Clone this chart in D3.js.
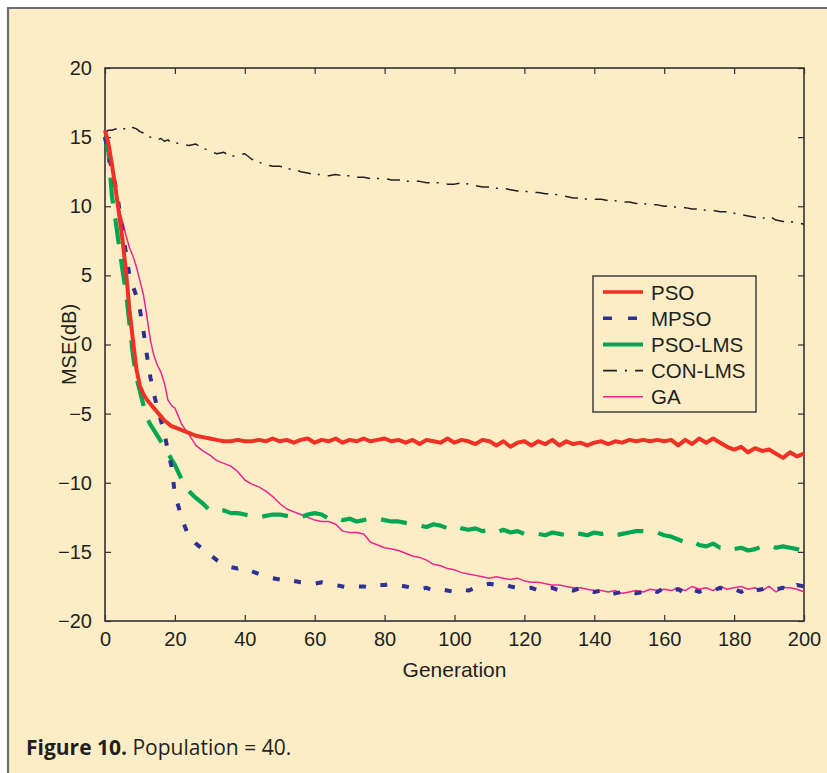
<!DOCTYPE html>
<html>
<head>
<meta charset="utf-8">
<script src="https://cdn.jsdelivr.net/npm/d3@7"></script>
<style>
  html, body { margin: 0; padding: 0; background: #ffffff; }
  svg { display: block; }
</style>
</head>
<body>
<svg id="chart" width="827" height="773"></svg>
<script>
// Generations at which the MSE curves are sampled
const generations = [
  0,1,2,3,4,5,6,7,8,9,10,11,12,13,14,15,16,17,18,19,20,
  22,24,26,28,30,32,34,36,38,40,42,44,46,48,50,52,54,56,58,60,
  62,64,66,68,70,72,74,76,78,80,82,84,86,88,90,92,94,96,98,100,
  102,104,106,108,110,112,114,116,118,120,122,124,126,128,130,132,134,136,138,140,
  142,144,146,148,150,152,154,156,158,160,162,164,166,168,170,172,174,176,178,180,
  182,184,186,188,190,192,194,196,198,200
];

// MSE (dB) of each algorithm, population = 40
const psoValues = [
  15.5,14.5,13.0,11.3,9.5,7.6,5.3,2.5,0.3,-1.8,-3.0,-3.6,-4.0,-4.3,-4.6,-4.9,-5.2,-5.5,-5.7,-5.9,-6.0,
  -6.2,-6.4,-6.6,-6.7,-6.8,-6.9,-7.0,-7.0,-6.9,-7.0,-7.0,-6.9,-7.0,-6.8,-7.0,-6.9,-7.1,-6.9,-6.8,-7.1,
  -6.9,-7.0,-6.8,-7.1,-6.9,-7.0,-6.8,-7.0,-6.9,-6.8,-7.0,-6.9,-7.1,-6.9,-7.2,-6.9,-7.0,-7.1,-6.8,-7.1,
  -6.9,-7.0,-7.2,-6.9,-7.0,-7.3,-7.0,-7.4,-7.1,-7.0,-7.3,-7.0,-7.2,-6.9,-7.3,-7.0,-7.2,-7.1,-7.3,-7.1,
  -7.0,-7.2,-7.0,-7.1,-6.9,-7.0,-6.9,-7.0,-6.9,-7.0,-6.9,-7.3,-6.9,-7.2,-6.8,-7.1,-6.8,-7.1,-7.4,-7.6,
  -7.4,-7.8,-7.5,-7.7,-7.6,-7.9,-8.2,-7.8,-8.1,-7.9
];
const mpsoValues = [
  15.0,13.8,12.6,11.5,10.0,8.3,6.6,5.0,4.2,3.5,2.5,1.0,-0.8,-2.4,-3.6,-4.6,-5.5,-6.4,-7.7,-8.8,-10.8,
  -12.6,-13.9,-14.4,-14.8,-15.2,-15.6,-15.9,-16.1,-16.2,-16.1,-16.4,-16.6,-16.8,-16.9,-17.0,-16.9,-17.1,-17.2,-17.2,-17.3,
  -17.2,-17.3,-17.4,-17.5,-17.6,-17.5,-17.5,-17.6,-17.4,-17.4,-17.3,-17.4,-17.5,-17.6,-17.7,-17.6,-17.8,-17.7,-17.8,-17.9,
  -17.7,-17.8,-17.6,-17.4,-17.3,-17.4,-17.3,-17.5,-17.6,-17.7,-17.6,-17.8,-17.7,-17.6,-17.8,-17.7,-17.8,-17.6,-17.8,-17.9,
  -17.8,-18.1,-18.0,-17.9,-17.8,-18.0,-17.9,-17.7,-17.9,-17.6,-17.8,-17.7,-18.0,-17.7,-17.9,-17.7,-17.8,-17.6,-17.8,-17.7,
  -17.9,-17.6,-17.8,-17.7,-17.5,-17.7,-17.6,-17.8,-17.4,-17.5
];
const psoLmsValues = [
  15.0,13.9,10.7,9.0,7.2,5.4,3.8,1.5,-0.8,-2.4,-3.4,-4.4,-5.3,-5.8,-6.2,-6.6,-7.0,-7.4,-7.8,-8.3,-8.7,
  -9.8,-10.6,-11.1,-11.5,-12.0,-12.1,-12.0,-12.2,-12.2,-12.3,-12.4,-12.5,-12.4,-12.3,-12.3,-12.4,-12.5,-12.5,-12.3,-12.2,
  -12.3,-12.6,-12.5,-12.7,-12.6,-12.8,-12.7,-12.6,-12.6,-12.7,-12.8,-12.8,-12.9,-13.0,-13.1,-13.2,-13.0,-13.1,-13.3,-13.1,
  -13.3,-13.4,-13.3,-13.5,-13.4,-13.6,-13.4,-13.6,-13.5,-13.7,-13.6,-13.7,-13.8,-13.6,-13.7,-13.8,-13.6,-13.7,-13.8,-13.6,
  -13.7,-13.6,-13.8,-13.7,-13.6,-13.5,-13.5,-13.6,-13.6,-13.8,-13.9,-14.1,-14.3,-14.2,-14.5,-14.6,-14.4,-14.7,-14.6,-14.8,
  -14.7,-14.9,-14.8,-14.6,-14.5,-14.7,-14.6,-14.7,-14.8,-14.9
];
const conLmsValues = [
  15.3,15.5,15.5,15.6,15.5,15.6,15.6,15.5,15.7,15.6,15.4,15.3,15.1,15.0,14.9,14.8,14.9,14.7,14.8,14.6,14.6,
  14.5,14.4,14.5,14.2,14.0,13.8,13.9,13.6,13.7,13.8,13.4,13.2,13.0,12.9,12.9,12.7,12.7,12.5,12.4,12.3,
  12.3,12.2,12.3,12.2,12.2,12.1,12.1,12.0,12.0,12.0,11.9,11.9,11.8,11.8,11.8,11.7,11.7,11.7,11.6,11.6,
  11.7,11.6,11.5,11.4,11.4,11.3,11.3,11.2,11.1,11.1,11.0,11.0,10.9,10.9,10.8,10.7,10.6,10.6,10.5,10.5,
  10.5,10.4,10.4,10.3,10.3,10.2,10.2,10.1,10.1,10.0,10.0,9.9,9.9,9.8,9.8,9.7,9.7,9.6,9.6,9.5,
  9.4,9.3,9.2,9.1,9.3,9.0,8.9,8.9,8.8,8.7
];
const gaValues = [
  15.5,14.8,13.0,11.3,9.8,8.9,7.9,7.0,6.4,5.6,4.6,3.6,2.0,0.3,-0.8,-1.5,-2.0,-2.8,-4.0,-4.4,-4.6,
  -5.8,-6.5,-7.3,-7.7,-8.0,-8.4,-8.6,-8.8,-9.2,-9.8,-10.1,-10.3,-10.6,-11.0,-11.5,-11.9,-12.1,-12.3,-12.5,-12.7,
  -12.8,-12.8,-13.0,-13.5,-13.6,-13.6,-13.7,-14.3,-14.5,-14.7,-14.8,-14.9,-15.1,-15.3,-15.4,-15.6,-15.9,-16.0,-16.2,-16.3,
  -16.5,-16.6,-16.7,-16.8,-16.9,-16.8,-16.9,-17.0,-16.9,-17.1,-17.2,-17.2,-17.3,-17.4,-17.4,-17.5,-17.6,-17.6,-17.7,-17.8,
  -17.8,-17.9,-17.8,-18.0,-17.9,-17.8,-17.9,-17.7,-17.8,-17.7,-17.8,-17.6,-17.8,-17.5,-17.7,-17.6,-17.8,-17.5,-17.7,-17.6,
  -17.5,-17.7,-17.6,-17.8,-17.5,-17.9,-17.6,-17.6,-17.7,-17.9
];

// Axis ticks
const xTicks = [0,20,40,60,80,100,120,140,160,180,200];
const yTicks = [20,15,10,5,0,-5,-10,-15,-20];

// Series in legend order, with their line styles
const seriesNames = ["PSO","MPSO","PSO-LMS","CON-LMS","GA"];
const seriesData = [psoValues, mpsoValues, psoLmsValues, conLmsValues, gaValues];
const seriesColors = ["#ee3124","#2e3192","#00a651","#231f20","#ec268f"];
const seriesWidths = [4, 4, 4.2, 1.5, 1.5];
const seriesDashes = [null, "7,15", "26,15", "13,7,2,8", null];
const legendDashes = [null, "9,16", null, "14,8,2,8", null];

const svg = d3.select("#chart");
const bg = "#fdedc6";

// Panel background with the gray frame along the top and left edges
svg.append("rect").attr("x", 8).attr("y", 8).attr("width", 830).attr("height", 780).attr("fill", bg);
svg.append("path").attr("d", "M8,790 L8,8 L830,8").attr("fill", "none")
  .attr("stroke", "#6d6e70").attr("stroke-width", 2.2);

const plotL = 105, plotR = 804, plotT = 68, plotB = 621;
const x = d3.scaleLinear().domain([0, 200]).range([plotL, plotR]);
const y = d3.scaleLinear().domain([-20, 20]).range([plotB, plotT]);

const fmt = d => (d < 0 ? "\u2212" + Math.abs(d) : String(d));
const tickFont = "'Liberation Sans', Arial, sans-serif";

// Axes: labelled bottom/left, bare ticks on top/right, all pointing inward
const gx = svg.append("g").attr("transform", `translate(0,${plotB})`)
  .call(d3.axisBottom(x).tickValues(xTicks).tickSize(-6).tickPadding(11).tickFormat(fmt));
const gy = svg.append("g").attr("transform", `translate(${plotL},0)`)
  .call(d3.axisLeft(y).tickValues(yTicks).tickSize(-6).tickPadding(13).tickFormat(fmt));
const gxt = svg.append("g").attr("transform", `translate(0,${plotT})`)
  .call(d3.axisTop(x).tickValues(xTicks).tickSize(-6).tickFormat(""));
const gyr = svg.append("g").attr("transform", `translate(${plotR},0)`)
  .call(d3.axisRight(y).tickValues(yTicks).tickSize(-6).tickFormat(""));

[gx, gy, gxt, gyr].forEach(g => {
  g.select(".domain").remove();
  g.selectAll(".tick line").attr("stroke", "#333132").attr("stroke-width", 1.2);
  g.selectAll(".tick text").attr("fill", "#231f20")
    .style("font-family", tickFont).style("font-size", "20px");
});

// Plot frame
svg.append("rect").attr("x", plotL).attr("y", plotT).attr("width", plotR - plotL).attr("height", plotB - plotT)
  .attr("fill", "none").attr("stroke", "#333132").attr("stroke-width", 1.6);

// Axis titles
svg.append("text").attr("x", (plotL + plotR) / 2).attr("y", 677).attr("text-anchor", "middle")
  .style("font-family", tickFont).style("font-size", "21px").attr("fill", "#231f20").text("Generation");
svg.append("text").attr("transform", `translate(76,${(plotT + plotB) / 2}) rotate(-90)`)
  .attr("text-anchor", "middle").style("font-family", tickFont).style("font-size", "20px")
  .attr("fill", "#231f20").text("MSE(dB)");

// Curves
const line = d3.line().x((d, i) => x(generations[i])).y(d => y(d));
const drawOrder = [3, 4, 2, 1, 0];
drawOrder.forEach(k => {
  svg.append("path").datum(seriesData[k])
    .attr("d", line)
    .attr("fill", "none")
    .attr("stroke", seriesColors[k])
    .attr("stroke-width", seriesWidths[k])
    .attr("stroke-linejoin", "round")
    .attr("stroke-dasharray", seriesDashes[k]);
});

// Legend
const lg = svg.append("g");
lg.append("rect").attr("x", 593).attr("y", 276).attr("width", 163).attr("height", 136)
  .attr("fill", bg).attr("stroke", "#333132").attr("stroke-width", 1.4);
seriesNames.forEach((name, i) => {
  const cy = 292 + i * 26.2;
  lg.append("line").attr("x1", 603).attr("x2", 643).attr("y1", cy).attr("y2", cy)
    .attr("stroke", seriesColors[i])
    .attr("stroke-width", i === 3 || i === 4 ? 1.6 : (i === 2 ? 4 : 3.6))
    .attr("stroke-dasharray", legendDashes[i]);
  lg.append("text").attr("x", 651).attr("y", cy + 7.5)
    .style("font-family", tickFont).style("font-size", "20.5px").attr("fill", "#231f20").text(name);
});

// Caption
const cap = svg.append("text").attr("x", 26).attr("y", 755)
  .style("font-family", "'Open Sans', 'DejaVu Sans', sans-serif").style("font-size", "21px").attr("fill", "#231f20");
cap.append("tspan").style("font-weight", "700").text("Figure 10.");
cap.append("tspan").text(" Population = 40.");
</script>
</body>
</html>
